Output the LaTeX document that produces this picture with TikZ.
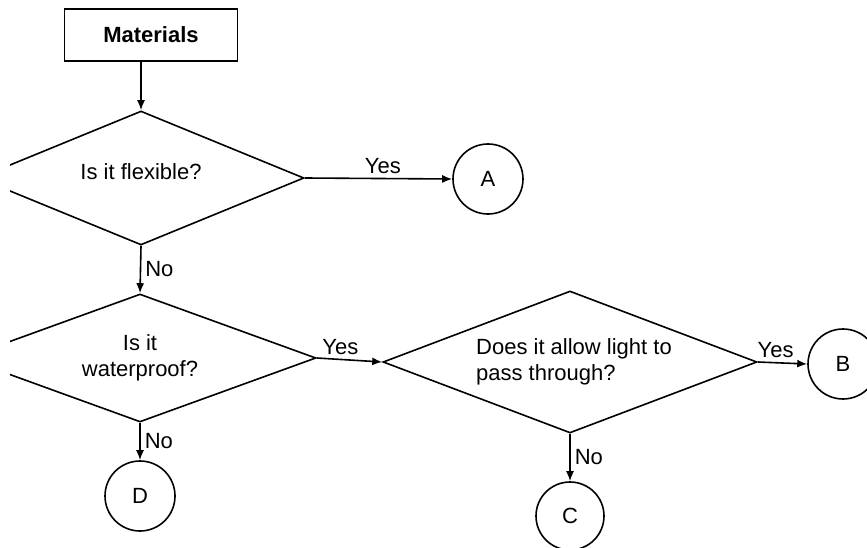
\documentclass[tikz,border=0pt]{standalone}
\usepackage{fontspec}
\setmainfont{Liberation Sans}
\usepackage{tikz}
\usetikzlibrary{shapes.geometric,arrows.meta,positioning}

\tikzset{
  question/.style={diamond,draw,line width=1.6pt,inner sep=0pt,align=center},
  answer/.style={circle,draw,line width=1.6pt,minimum size=70pt,inner sep=0pt},
  start box/.style={rectangle,draw,line width=1.6pt,minimum width=173pt,minimum height=52pt,font=\fontsize{22}{26}\selectfont\bfseries},
  flow/.style={line width=1.6pt,-{Latex[length=10pt,width=8pt]}},
  branch/.style={inner sep=4pt}
}

\begin{document}
\begin{tikzpicture}[x=1pt,y=-1pt,font=\fontsize{22}{26}\selectfont]
  \useasboundingbox (0,0) rectangle (867,548);
  \clip (10,0) rectangle (867,548);

  % start and questions
  \node[start box] (materials) at (151,35) {Materials};
  \node[question,aspect=2.43,minimum width=326pt,minimum height=134pt] (flexible) at (141,178)
    {\raisebox{12pt}{Is it flexible?}};
  \node[question,aspect=2.75,minimum width=352pt,minimum height=128pt] (waterproof) at (140,358)
    {Is it\\waterproof?};
  \node[question,aspect=2.63,minimum width=374pt,minimum height=142pt,align=left] (light) at (570,362)
    {\hspace*{8pt}Does it allow light to\\\hspace*{8pt}pass through?};

  % outcomes
  \node[answer] (A) at (488,179) {A};
  \node[answer] (B) at (843,364) {B};
  \node[answer,minimum size=68pt] (C) at (570,516) {C};
  \node[answer] (D) at (140,496) {D};

  % connectors
  \draw[flow] (materials.south -| flexible.north) -- (flexible.north);
  \draw[flow] (flexible.east) -- node[branch,above,pos=0.53] {Yes} (A.west);
  \draw[flow] (flexible.south) -- node[branch,right] {No} (waterproof.north);
  \draw[flow] (waterproof.east) -- node[branch,above,pos=0.36] {Yes} (light.west);
  \draw[flow] (waterproof.south) -- node[branch,right] {No} (D.north);
  \draw[flow] (light.east) -- node[branch,above,pos=0.36] {Yes} (B.west);
  \draw[flow] (light.south) -- node[branch,right] {No} (C.north);
\end{tikzpicture}
\end{document}
